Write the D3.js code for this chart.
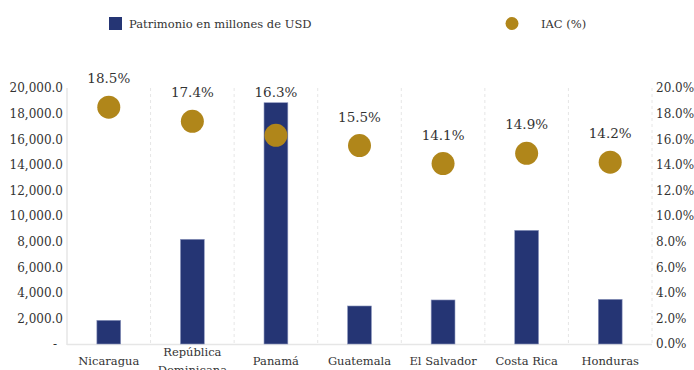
<!DOCTYPE html>
<html>
<head>
<meta charset="utf-8">
<script src="https://cdn.jsdelivr.net/npm/d3@7"></script>
<style>
  html, body { margin: 0; padding: 0; background: #fff; }
  svg { display: block; font-family: "DejaVu Serif", Georgia, serif; }
</style>
</head>
<body>
<svg id="chart" width="694" height="370"></svg>
<script>
// Patrimonio (millones de USD) e IAC (%) por país
const countries = ["Nicaragua", "República Dominicana", "Panamá", "Guatemala", "El Salvador", "Costa Rica", "Honduras"];
const patrimonio = [1850, 8180, 18850, 2970, 3440, 8880, 3490];
const iac = [18.5, 17.4, 16.3, 15.5, 14.1, 14.9, 14.2];
const leftTicks = [0, 2000, 4000, 6000, 8000, 10000, 12000, 14000, 16000, 18000, 20000];
const rightTicks = [0, 2, 4, 6, 8, 10, 12, 14, 16, 18, 20];

const barColor = "#253574";
const dotColor = "#B0861A";
const textColor = "#333333";
const gridColor = "#e6e6e6";

const svg = d3.select("#chart");
const margin = { left: 67, right: 42, top: 88, bottom: 26 };
const W = 694, H = 370;
const plotR = W - margin.right;
const plotB = H - margin.bottom;

const x = d3.scaleBand().domain(countries).range([margin.left, plotR]).paddingInner(0).paddingOuter(0);
const yL = d3.scaleLinear().domain([0, 20000]).range([plotB, margin.top]);
const yR = d3.scaleLinear().domain([0, 20]).range([plotB, margin.top]);

// Separadores verticales entre categorías
svg.append("g").selectAll("line")
  .data(countries.slice(1))
  .join("line")
  .attr("x1", d => x(d)).attr("x2", d => x(d))
  .attr("y1", margin.top).attr("y2", plotB)
  .attr("stroke", gridColor).attr("stroke-dasharray", "3,3");

// Eje derecho (línea punteada)
svg.append("line")
  .attr("x1", plotR).attr("x2", plotR)
  .attr("y1", margin.top).attr("y2", plotB)
  .attr("stroke", gridColor).attr("stroke-dasharray", "3,3");

// Eje izquierdo y base
svg.append("line")
  .attr("x1", margin.left).attr("x2", margin.left)
  .attr("y1", margin.top).attr("y2", plotB + 1)
  .attr("stroke", gridColor).attr("stroke-width", 1.5);
svg.append("line")
  .attr("x1", margin.left).attr("x2", plotR)
  .attr("y1", plotB + 0.5).attr("y2", plotB + 0.5)
  .attr("stroke", gridColor).attr("stroke-width", 1.5);

// Etiquetas del eje izquierdo
const fmtL = d => d === 0 ? "-" : d3.format(",.1f")(d);
const axL = d3.axisLeft(yL).tickValues(leftTicks).tickFormat(fmtL).tickSize(0).tickPadding(4);
const gL = svg.append("g").attr("transform", `translate(${margin.left},0)`).call(axL);
gL.select(".domain").remove();
gL.selectAll("text").attr("fill", textColor).attr("font-size", 12).attr("font-family", "DejaVu Serif");
gL.selectAll(".tick").filter(d => d === 0).select("text").attr("dx", -6);

// Etiquetas del eje derecho
const axR = d3.axisRight(yR).tickValues(rightTicks).tickFormat(d => d3.format(".1f")(d) + "%").tickSize(0).tickPadding(4);
const gR = svg.append("g").attr("transform", `translate(${plotR},0)`).call(axR);
gR.select(".domain").remove();
gR.selectAll("text").attr("fill", textColor).attr("font-size", 12).attr("font-family", "DejaVu Serif");

// Barras
const barW = x.bandwidth() * 0.285;
svg.append("g").selectAll("rect")
  .data(countries)
  .join("rect")
  .attr("x", d => x(d) + x.bandwidth() / 2 - barW / 2)
  .attr("y", (d, i) => yL(patrimonio[i]))
  .attr("width", barW)
  .attr("height", (d, i) => yL(0) - yL(patrimonio[i]))
  .attr("fill", barColor)
  .attr("stroke", "#8c96bd").attr("stroke-width", 0.6);

// Puntos IAC
svg.append("g").selectAll("circle")
  .data(countries)
  .join("circle")
  .attr("cx", d => x(d) + x.bandwidth() / 2)
  .attr("cy", (d, i) => yR(iac[i]))
  .attr("r", 11.5)
  .attr("fill", dotColor);

// Etiquetas de valor IAC: sobre el punto, o sobre la barra si ésta lo tapa
svg.append("g").selectAll("text")
  .data(countries)
  .join("text")
  .attr("x", d => x(d) + x.bandwidth() / 2)
  .attr("y", (d, i) => Math.min(yR(iac[i]) - 24, yL(patrimonio[i]) - 6))
  .attr("text-anchor", "middle")
  .attr("font-size", 13.5)
  .attr("fill", textColor)
  .text((d, i) => d3.format(".1f")(iac[i]) + "%");

// Etiquetas de categoría
const gX = svg.append("g");
countries.forEach(c => {
  const cx = x(c) + x.bandwidth() / 2;
  const parts = c === "República Dominicana" ? ["República", "Dominicana"] : [c];
  const t = gX.append("text")
    .attr("x", cx)
    .attr("text-anchor", "middle")
    .attr("font-size", 11.5)
    .attr("fill", textColor);
  if (parts.length === 1) {
    t.attr("y", 365).text(parts[0]);
  } else {
    t.append("tspan").attr("x", cx).attr("y", 356).text(parts[0]);
    t.append("tspan").attr("x", cx).attr("y", 374).text(parts[1]);
  }
});

// Leyenda
svg.append("rect").attr("x", 109).attr("y", 17).attr("width", 13).attr("height", 13).attr("fill", barColor);
svg.append("text").attr("x", 129).attr("y", 28).attr("font-size", 11.5).attr("fill", textColor)
  .text("Patrimonio en millones de USD");
svg.append("circle").attr("cx", 512).attr("cy", 23.5).attr("r", 6.5).attr("fill", dotColor);
svg.append("text").attr("x", 541).attr("y", 28).attr("font-size", 11.5).attr("fill", textColor)
  .text("IAC (%)");
</script>
</body>
</html>
